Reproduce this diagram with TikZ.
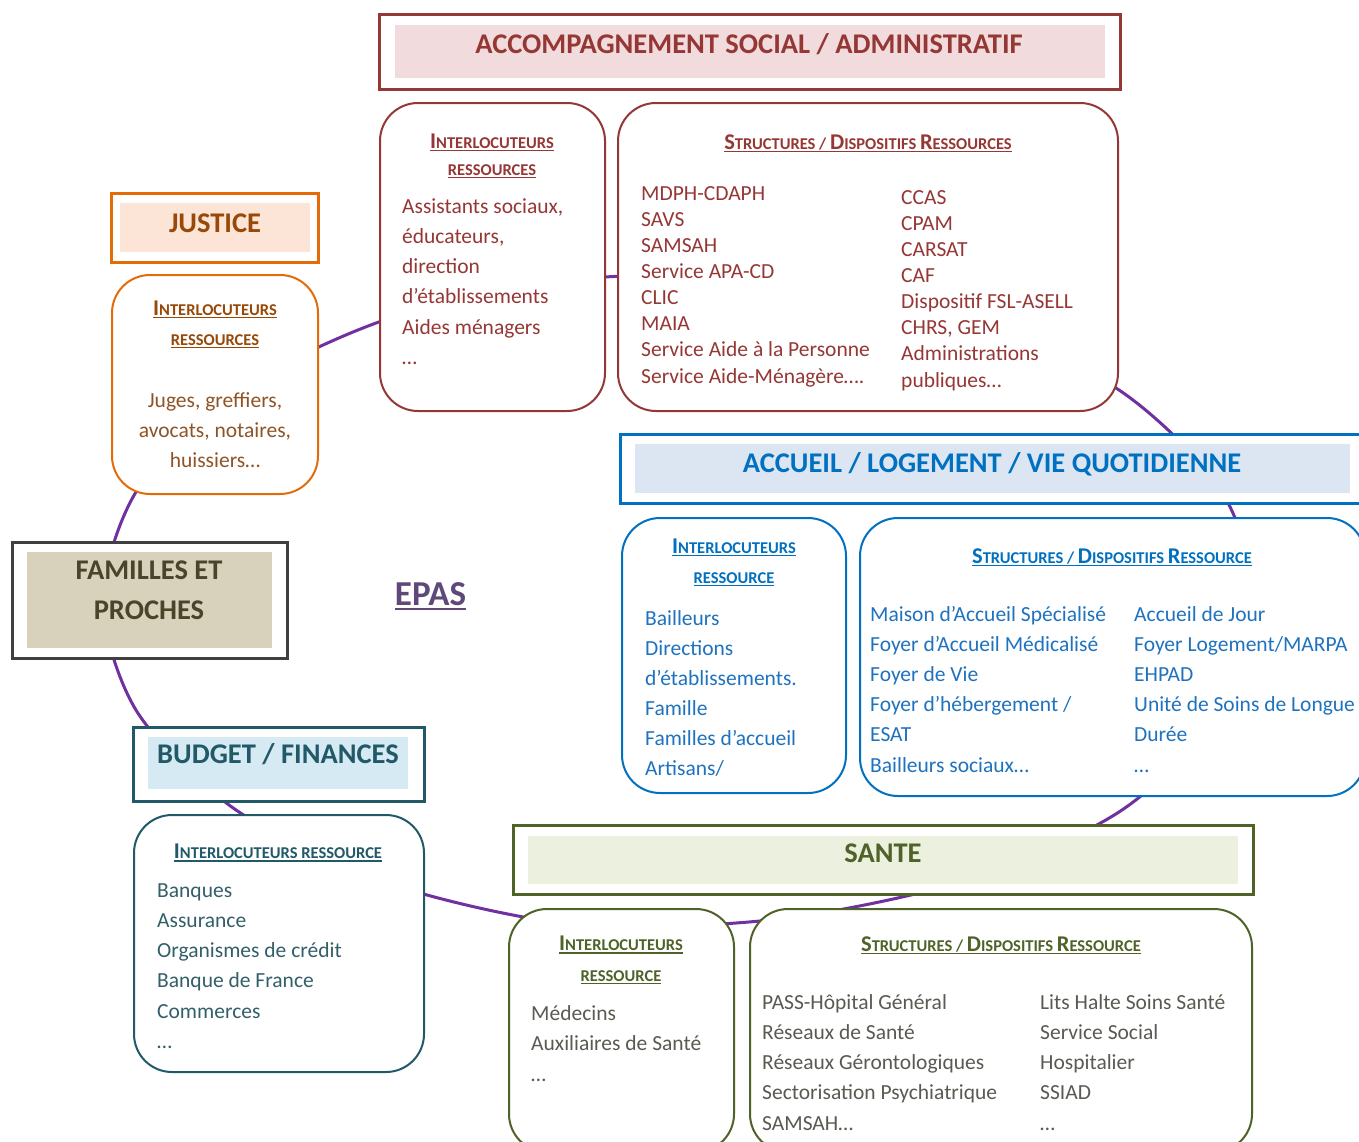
\documentclass[tikz,border=0pt]{standalone}
\usepackage{fontspec}
\setmainfont{Carlito}

% colours of the six domains
\definecolor{cred}{HTML}{953735}
\definecolor{credfill}{HTML}{F2DBDC}
\definecolor{corg}{HTML}{E36C09}
\definecolor{corgtxt}{HTML}{984807}
\definecolor{corgitem}{HTML}{8F5426}
\definecolor{corgfill}{HTML}{FCE4D6}
\definecolor{cfam}{HTML}{404040}
\definecolor{cfamtxt}{HTML}{4A452A}
\definecolor{cfamfill}{HTML}{D8D2BC}
\definecolor{cepas}{HTML}{5F497A}
\definecolor{cteal}{HTML}{215968}
\definecolor{ctealitem}{HTML}{335F69}
\definecolor{ctealfill}{HTML}{D5EAF2}
\definecolor{cblue}{HTML}{0070C0}
\definecolor{cblueitem}{HTML}{1F72BE}
\definecolor{cbluefill}{HTML}{DCE6F2}
\definecolor{colive}{HTML}{4F6228}
\definecolor{coliveitem}{HTML}{5A5A52}
\definecolor{colivefill}{HTML}{EBF1DE}
\definecolor{cring}{HTML}{7030A0}

% fake small capitals and a hand-made underline
\newcommand\bigc[1]{{\fontsize{22.5}{24}\selectfont #1}}
\newcommand\smc[1]{{\fontsize{16.5}{18}\selectfont #1}}
\newcommand\ulin[1]{\setbox0\hbox{#1}\rlap{\rule[-3.2pt]{\wd0}{1.4pt}}\box0}
\newcommand\irtitle{\bigc{I}\smc{NTERLOCUTEURS}}
\newcommand\sdtitle[1]{\bigc{S}\smc{TRUCTURES / }\bigc{D}\smc{ISPOSITIFS }\bigc{R}\smc{#1}}

\begin{document}
\begin{tikzpicture}[x=1pt,y=-1pt,
  hdr/.style={draw=#1, line width=3pt, fill=white, inner sep=0pt, rectangle},
  band/.style={fill=#1, draw=none, inner sep=0pt, rectangle},
  card/.style={draw=#1, line width=2pt, fill=white, rounded corners=38pt, inner sep=0pt, rectangle},
  htext/.style={anchor=base, inner sep=0pt, font=\fontsize{28.5}{30}\selectfont\bfseries},
  ttl/.style={anchor=base, inner sep=0pt, font=\bfseries},
  item/.style={anchor=base west, inner sep=0pt, font=\fontsize{21.5}{26}\selectfont},
  citem/.style={anchor=base, inner sep=0pt, font=\fontsize{21.5}{26}\selectfont},
  ring/.style={draw=cring, line width=3pt}]

\useasboundingbox (0,0) rectangle (1359,1141);
\clip (0,0) rectangle (1359,1141);
\fill[white] (0,0) rectangle (1359,1141);

% the ring that links every domain around EPAS
\draw[ring] plot[smooth cycle] coordinates {
  (1255,601) (1220.3,712.8) (1120.2,811.2) (967,880) (779,919) (579,925)
  (391,884.2) (237.8,811.2) (137.7,712.8) (103,601) (137.7,489.2) (237.8,390.8)
  (391,317.8) (579,279) (779,279) (967,317.8) (1120.2,390.8) (1220.3,489.2)};

% ---------- ACCOMPAGNEMENT SOCIAL / ADMINISTRATIF ----------
\node[hdr=cred, minimum width=741, minimum height=75] (h-soc) at (749.5,51.5) {};
\node[band=credfill, minimum width=710, minimum height=53] (b-soc) at (750,51.5) {};
\node[htext, text=cred] (t-soc) at (749,53) {ACCOMPAGNEMENT SOCIAL / ADMINISTRATIF};

\node[card=cred, minimum width=225, minimum height=308] (ir-soc) at (492.5,257) {};
\node[ttl, text=cred] (ir-soc-t1) at (492,148) {\ulin{\irtitle}};
\node[ttl, text=cred] (ir-soc-t2) at (492,175) {\ulin{\smc{RESSOURCES}}};
\foreach \t [count=\i] in {{Assistants sociaux,},{éducateurs,},{direction},{d’établissements},{Aides ménagers},{…}}
  \node[item, text=cred] (ir-soc-\i) at (402,{213+30.3*(\i-1)}) {\t};

\node[card=cred, minimum width=500, minimum height=308] (sd-soc) at (868,257) {};
\node[ttl, text=cred] (sd-soc-t) at (868,149) {\ulin{\sdtitle{ESSOURCES}}};
\foreach \t [count=\i] in {{MDPH-CDAPH},{SAVS},{SAMSAH},{Service APA-CD},{CLIC},{MAIA},{Service Aide à la Personne},{Service Aide-Ménagère….}}
  \node[item, text=cred] (sd-soc-a\i) at (641,{200+26.15*(\i-1)}) {\t};
\foreach \t [count=\i] in {{CCAS},{CPAM},{CARSAT},{CAF},{Dispositif FSL-ASELL},{CHRS, GEM},{Administrations},{publiques…}}
  \node[item, text=cred] (sd-soc-b\i) at (901,{204+26.15*(\i-1)}) {\t};

% ---------- JUSTICE ----------
\node[hdr=corg, minimum width=207, minimum height=69] (h-jus) at (214.5,227.5) {};
\node[band=corgfill, minimum width=190, minimum height=49] (b-jus) at (215,227.5) {};
\node[htext, text=corgtxt] (t-jus) at (215,232) {JUSTICE};

\node[card=corg, minimum width=206, minimum height=219] (ir-jus) at (215,384.5) {};
\node[ttl, text=corgtxt] (ir-jus-t1) at (215,315) {\ulin{\irtitle}};
\node[ttl, text=corgtxt] (ir-jus-t2) at (215,345) {\ulin{\smc{RESSOURCES}}};
\foreach \t [count=\i] in {{Juges, greffiers,},{avocats, notaires,},{huissiers…}}
  \node[citem, text=corgitem] (ir-jus-\i) at (215,{407+30*(\i-1)}) {\t};

% ---------- FAMILLES ET PROCHES ----------
\node[hdr=cfam, minimum width=275, minimum height=116] (h-fam) at (149.5,600) {};
\node[band=cfamfill, minimum width=245, minimum height=96] (b-fam) at (149.5,600) {};
\node[htext, text=cfamtxt] (t-fam1) at (149,579.5) {FAMILLES ET};
\node[htext, text=cfamtxt] (t-fam2) at (149,619.5) {PROCHES};

% ---------- EPAS ----------
\node[anchor=base, inner sep=0pt, text=cepas, font=\fontsize{35}{36}\selectfont\bfseries]
  (epas) at (430.5,605) {\setbox0\hbox{EPAS}\rlap{\rule[-5pt]{\wd0}{2.4pt}}\box0};

% ---------- BUDGET / FINANCES ----------
\node[hdr=cteal, minimum width=291, minimum height=74] (h-bud) at (278.5,764) {};
\node[band=ctealfill, minimum width=260, minimum height=52] (b-bud) at (278,763) {};
\node[htext, text=cteal] (t-bud) at (278,763) {BUDGET / FINANCES};

\node[card=cteal, minimum width=290, minimum height=257] (ir-bud) at (279,943.5) {};
\node[ttl, text=cteal] (ir-bud-t) at (278,858.5) {\ulin{\irtitle\smc{ RESSOURCE}}};
\foreach \t [count=\i] in {{Banques},{Assurance},{Organismes de crédit},{Banque de France},{Commerces},{…}}
  \node[item, text=ctealitem] (ir-bud-\i) at (157,{897+30.3*(\i-1)}) {\t};

% ---------- ACCUEIL / LOGEMENT / VIE QUOTIDIENNE ----------
\node[hdr=cblue, minimum width=755, minimum height=69] (h-acc) at (997.5,468.5) {};
\node[band=cbluefill, minimum width=715, minimum height=49] (b-acc) at (992.5,468.5) {};
\node[htext, text=cblue] (t-acc) at (992,472) {ACCUEIL / LOGEMENT / VIE QUOTIDIENNE};

\node[card=cblue, minimum width=224, minimum height=275] (ir-acc) at (734,655.5) {};
\node[ttl, text=cblue] (ir-acc-t1) at (734,553) {\ulin{\irtitle}};
\node[ttl, text=cblue] (ir-acc-t2) at (734,583) {\ulin{\smc{RESSOURCE}}};
\foreach \t [count=\i] in {{Bailleurs},{Directions},{d’établissements.},{Famille},{Familles d’accueil},{Artisans/}}
  \node[item, text=cblueitem] (ir-acc-\i) at (645,{625+30*(\i-1)}) {\t};

\node[card=cblue, minimum width=505, minimum height=278] (sd-acc) at (1112.5,657) {};
\node[ttl, text=cblue] (sd-acc-t) at (1112,563) {\ulin{\sdtitle{ESSOURCE}}};
\foreach \t [count=\i] in {{Maison d’Accueil Spécialisé},{Foyer d’Accueil Médicalisé},{Foyer de Vie},{Foyer d’hébergement /},{ESAT},{Bailleurs sociaux…}}
  \node[item, text=cblueitem] (sd-acc-a\i) at (870,{621+30.2*(\i-1)}) {\t};
\foreach \t [count=\i] in {{Accueil de Jour},{Foyer Logement/MARPA},{EHPAD},{Unité de Soins de Longue},{Durée},{…}}
  \node[item, text=cblueitem] (sd-acc-b\i) at (1134,{621+30.2*(\i-1)}) {\t};

% ---------- SANTE ----------
\node[hdr=colive, minimum width=740, minimum height=69] (h-san) at (883,859.5) {};
\node[band=colivefill, minimum width=710, minimum height=48] (b-san) at (883,860) {};
\node[htext, text=colive] (t-san) at (883,862) {SANTE};

\node[card=colive, minimum width=225, minimum height=243] (ir-san) at (621.5,1030.5) {};
\node[ttl, text=colive] (ir-san-t1) at (621,950.5) {\ulin{\irtitle}};
\node[ttl, text=colive] (ir-san-t2) at (621,981) {\ulin{\smc{RESSOURCE}}};
\foreach \t [count=\i] in {{Médecins},{Auxiliaires de Santé},{…}}
  \node[item, text=coliveitem] (ir-san-\i) at (531,{1020+30.5*(\i-1)}) {\t};

\node[card=colive, minimum width=502, minimum height=243] (sd-san) at (1001,1030.5) {};
\node[ttl, text=colive] (sd-san-t) at (1001,951) {\ulin{\sdtitle{ESSOURCE}}};
\foreach \t [count=\i] in {{PASS-Hôpital Général},{Réseaux de Santé},{Réseaux Gérontologiques},{Sectorisation Psychiatrique},{SAMSAH…}}
  \node[item, text=coliveitem] (sd-san-a\i) at (762,{1009+30.3*(\i-1)}) {\t};
\foreach \t [count=\i] in {{Lits Halte Soins Santé},{Service Social},{Hospitalier},{SSIAD},{…}}
  \node[item, text=coliveitem] (sd-san-b\i) at (1040,{1009+30.3*(\i-1)}) {\t};

\end{tikzpicture}
\end{document}
